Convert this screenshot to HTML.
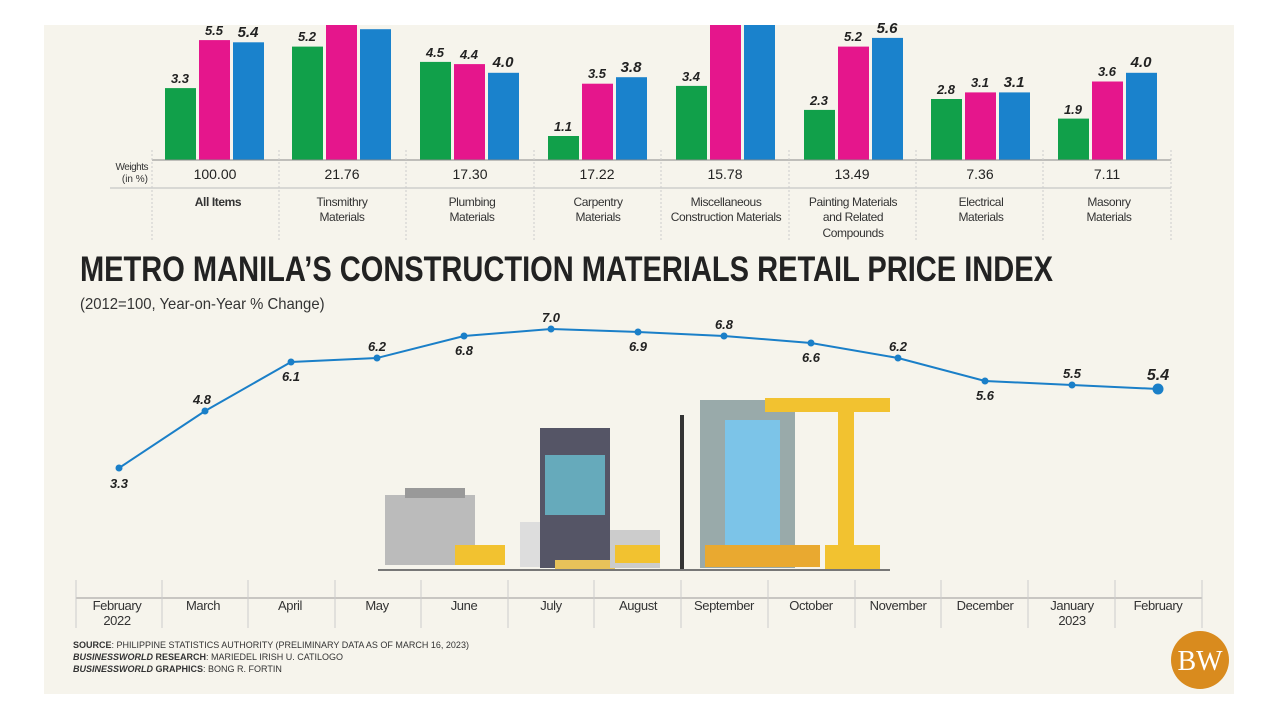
<!DOCTYPE html><html><head><meta charset="utf-8"><style>
body{margin:0;width:1280px;height:720px;background:#fff;overflow:hidden;font-family:"Liberation Sans",sans-serif}
</style></head><body>
<svg width="1280" height="720" xmlns="http://www.w3.org/2000/svg" font-family="Liberation Sans, sans-serif">
<rect x="44" y="25" width="1190" height="669" fill="#f6f4ec"/>
<g>
<rect x="165" y="88.1" width="31" height="71.9" fill="#11a04a"/><rect x="199" y="40.1" width="31" height="119.9" fill="#e5168c"/><rect x="233" y="42.3" width="31" height="117.7" fill="#1a82cc"/>
<rect x="292" y="46.6" width="31" height="113.4" fill="#11a04a"/><rect x="326" y="25" width="31" height="135" fill="#e5168c"/><rect x="360" y="29.2" width="31" height="130.8" fill="#1a82cc"/>
<rect x="420" y="61.9" width="31" height="98.1" fill="#11a04a"/><rect x="454" y="64.1" width="31" height="95.9" fill="#e5168c"/><rect x="488" y="72.8" width="31" height="87.2" fill="#1a82cc"/>
<rect x="548" y="136" width="31" height="24" fill="#11a04a"/><rect x="582" y="83.7" width="31" height="76.3" fill="#e5168c"/><rect x="616" y="77.2" width="31" height="82.8" fill="#1a82cc"/>
<rect x="676" y="85.9" width="31" height="74.1" fill="#11a04a"/><rect x="710" y="25" width="31" height="135" fill="#e5168c"/><rect x="744" y="25" width="31" height="135" fill="#1a82cc"/>
<rect x="804" y="109.9" width="31" height="50.1" fill="#11a04a"/><rect x="838" y="46.6" width="31" height="113.4" fill="#e5168c"/><rect x="872" y="37.9" width="31" height="122.1" fill="#1a82cc"/>
<rect x="931" y="99" width="31" height="61" fill="#11a04a"/><rect x="965" y="92.4" width="31" height="67.6" fill="#e5168c"/><rect x="999" y="92.4" width="31" height="67.6" fill="#1a82cc"/>
<rect x="1058" y="118.6" width="31" height="41.4" fill="#11a04a"/><rect x="1092" y="81.5" width="31" height="78.5" fill="#e5168c"/><rect x="1126" y="72.8" width="31" height="87.2" fill="#1a82cc"/>
</g>
<g font-size="13" font-style="italic" font-weight="bold" fill="#222" text-anchor="middle">
<text x="180" y="83">3.3</text><text x="214" y="35">5.5</text><text x="248" y="37" font-size="15">5.4</text>
<text x="307" y="41">5.2</text>
<text x="435" y="57">4.5</text><text x="469" y="59">4.4</text><text x="503" y="67" font-size="15">4.0</text>
<text x="563" y="131">1.1</text><text x="597" y="78">3.5</text><text x="631" y="72" font-size="15">3.8</text>
<text x="691" y="81">3.4</text>
<text x="819" y="105">2.3</text><text x="853" y="41">5.2</text><text x="887" y="33" font-size="15">5.6</text>
<text x="946" y="94">2.8</text><text x="980" y="87">3.1</text><text x="1014" y="87" font-size="15">3.1</text>
<text x="1073" y="114">1.9</text><text x="1107" y="76">3.6</text><text x="1141" y="67" font-size="15">4.0</text>
</g>
<line x1="152" y1="160" x2="1171" y2="160" stroke="#888" stroke-width="1"/>
<line x1="110" y1="188" x2="1171" y2="188" stroke="#bbb" stroke-width="1"/>
<g stroke="#ccc" stroke-width="1" stroke-dasharray="2,2">
<line x1="152" y1="150" x2="152" y2="240"/><line x1="279" y1="150" x2="279" y2="240"/><line x1="406" y1="150" x2="406" y2="240"/><line x1="534" y1="150" x2="534" y2="240"/><line x1="661" y1="150" x2="661" y2="240"/><line x1="789" y1="150" x2="789" y2="240"/><line x1="916" y1="150" x2="916" y2="240"/><line x1="1043" y1="150" x2="1043" y2="240"/><line x1="1171" y1="150" x2="1171" y2="240"/>
</g>
<text x="148" y="170" font-size="10" text-anchor="end" fill="#333" letter-spacing="-0.5">Weights</text>
<text x="148" y="182" font-size="10" text-anchor="end" fill="#333">(in %)</text>
<g font-size="14" text-anchor="middle" fill="#222">
<text x="215" y="179">100.00</text><text x="342" y="179">21.76</text><text x="470" y="179">17.30</text><text x="597" y="179">17.22</text><text x="725" y="179">15.78</text><text x="852" y="179">13.49</text><text x="980" y="179">7.36</text><text x="1107" y="179">7.11</text>
</g>
<g font-size="12" text-anchor="middle" fill="#333" letter-spacing="-0.4">
<text x="218" y="206" font-weight="bold">All Items</text>
<text x="342" y="206">Tinsmithry</text><text x="342" y="221">Materials</text>
<text x="472" y="206">Plumbing</text><text x="472" y="221">Materials</text>
<text x="598" y="206">Carpentry</text><text x="598" y="221">Materials</text>
<text x="726" y="206">Miscellaneous</text><text x="726" y="221">Construction Materials</text>
<text x="853" y="206">Painting Materials</text><text x="853" y="221">and Related</text><text x="853" y="237">Compounds</text>
<text x="981" y="206">Electrical</text><text x="981" y="221">Materials</text>
<text x="1109" y="206">Masonry</text><text x="1109" y="221">Materials</text>
</g>
<text x="80" y="281" font-size="35" font-weight="bold" fill="#222" transform="translate(80,0) scale(0.83,1) translate(-80,0)">METRO MANILA’S CONSTRUCTION MATERIALS RETAIL PRICE INDEX</text>
<text x="80" y="309" font-size="16" fill="#333" transform="translate(80,0) scale(0.93,1) translate(-80,0)">(2012=100, Year-on-Year % Change)</text>
<g>
<rect x="385" y="495" width="90" height="70" fill="#bbb"/><rect x="405" y="488" width="60" height="10" fill="#999"/>
<rect x="520" y="522" width="22" height="45" fill="#ddd"/>
<rect x="540" y="428" width="70" height="140" fill="#556"/><rect x="545" y="455" width="60" height="60" fill="#6ab"/>
<rect x="555" y="560" width="60" height="10" fill="#e8c25a"/>
<rect x="610" y="530" width="50" height="38" fill="#ccc"/>
<rect x="700" y="400" width="95" height="168" fill="#9aa"/><rect x="725" y="420" width="55" height="130" fill="#7cc4e8"/>
<rect x="705" y="545" width="115" height="22" fill="#e9a930"/>
<rect x="765" y="398" width="125" height="14" fill="#f2c230"/><rect x="838" y="405" width="16" height="165" fill="#f2c230"/>
<rect x="825" y="545" width="55" height="25" fill="#f2c230"/>
<rect x="680" y="415" width="4" height="155" fill="#333"/>
<line x1="378" y1="570" x2="890" y2="570" stroke="#777" stroke-width="2"/>
<rect x="455" y="545" width="50" height="20" fill="#f2c230"/><rect x="615" y="545" width="45" height="18" fill="#f2c230"/>
</g>
<polyline fill="none" stroke="#1a7fc8" stroke-width="2" points="119,468 205,411 291,362 377,358 464,336 551,329 638,332 724,336 811,343 898,358 985,381 1072,385 1158,389"/>
<g fill="#1a7fc8"><circle cx="119" cy="468" r="3.5"/><circle cx="205" cy="411" r="3.5"/><circle cx="291" cy="362" r="3.5"/><circle cx="377" cy="358" r="3.5"/><circle cx="464" cy="336" r="3.5"/><circle cx="551" cy="329" r="3.5"/><circle cx="638" cy="332" r="3.5"/><circle cx="724" cy="336" r="3.5"/><circle cx="811" cy="343" r="3.5"/><circle cx="898" cy="358" r="3.5"/><circle cx="985" cy="381" r="3.5"/><circle cx="1072" cy="385" r="3.5"/><circle cx="1158" cy="389" r="5.5"/></g>
<g font-size="13" font-style="italic" font-weight="bold" fill="#222" text-anchor="middle">
<text x="119" y="488">3.3</text><text x="202" y="404">4.8</text><text x="291" y="381">6.1</text><text x="377" y="351">6.2</text><text x="464" y="355">6.8</text><text x="551" y="322">7.0</text><text x="638" y="351">6.9</text><text x="724" y="329">6.8</text><text x="811" y="362">6.6</text><text x="898" y="351">6.2</text><text x="985" y="400">5.6</text><text x="1072" y="378">5.5</text><text x="1158" y="380" font-size="16">5.4</text>
</g>
<line x1="76" y1="598" x2="1202" y2="598" stroke="#999"/>
<g stroke="#ccc"><line x1="76" y1="580" x2="76" y2="628"/><line x1="162" y1="580" x2="162" y2="628"/><line x1="248" y1="580" x2="248" y2="628"/><line x1="335" y1="580" x2="335" y2="628"/><line x1="421" y1="580" x2="421" y2="628"/><line x1="508" y1="580" x2="508" y2="628"/><line x1="594" y1="580" x2="594" y2="628"/><line x1="681" y1="580" x2="681" y2="628"/><line x1="768" y1="580" x2="768" y2="628"/><line x1="855" y1="580" x2="855" y2="628"/><line x1="941" y1="580" x2="941" y2="628"/><line x1="1028" y1="580" x2="1028" y2="628"/><line x1="1115" y1="580" x2="1115" y2="628"/><line x1="1202" y1="580" x2="1202" y2="628"/></g>
<g font-size="13" fill="#333" text-anchor="middle" letter-spacing="-0.4">
<text x="117" y="610">February</text><text x="117" y="625">2022</text><text x="203" y="610">March</text><text x="290" y="610">April</text><text x="377" y="610">May</text><text x="464" y="610">June</text><text x="551" y="610">July</text><text x="638" y="610">August</text><text x="724" y="610">September</text><text x="811" y="610">October</text><text x="898" y="610">November</text><text x="985" y="610">December</text><text x="1072" y="610">January</text><text x="1072" y="625">2023</text><text x="1158" y="610">February</text>
</g>
<g font-size="9" fill="#333">
<text x="73" y="648"><tspan font-weight="bold">SOURCE</tspan>: PHILIPPINE STATISTICS AUTHORITY (PRELIMINARY DATA AS OF MARCH 16, 2023)</text>
<text x="73" y="660"><tspan font-weight="bold" font-style="italic">BUSINESSWORLD</tspan><tspan font-weight="bold"> RESEARCH</tspan>: MARIEDEL IRISH U. CATILOGO</text>
<text x="73" y="672"><tspan font-weight="bold" font-style="italic">BUSINESSWORLD</tspan><tspan font-weight="bold"> GRAPHICS</tspan>: BONG R. FORTIN</text>
</g>
<circle cx="1200" cy="660" r="29" fill="#d98b1e"/>
<text x="1200" y="670" font-size="28" font-family="Liberation Serif, serif" fill="#fff" text-anchor="middle">BW</text>
</svg>
</body></html>
